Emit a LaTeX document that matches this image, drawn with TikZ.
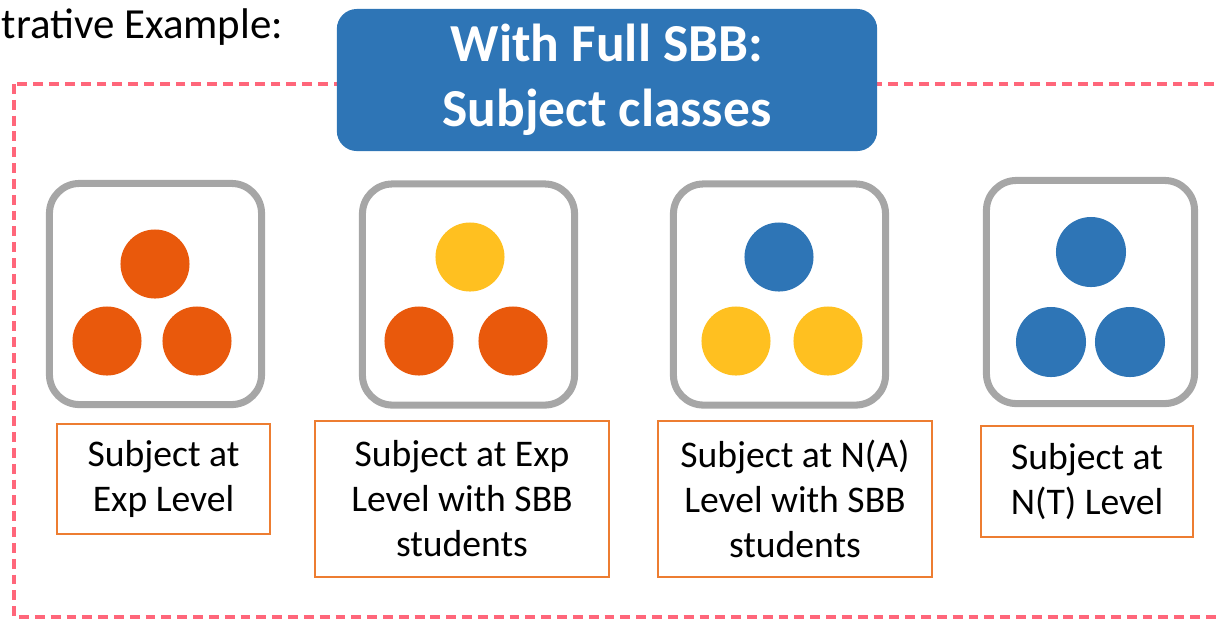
\documentclass[tikz,border=0pt]{standalone}
\usepackage{fontspec}
\setmainfont{Carlito}
\usepackage{tikz}

\definecolor{titleblue}{RGB}{46,117,182}
\definecolor{exporange}{RGB}{233,89,12}
\definecolor{sbbyellow}{RGB}{255,192,32}
\definecolor{boxgray}{RGB}{166,166,166}
\definecolor{labelorange}{RGB}{237,125,49}
\definecolor{dashpink}{RGB}{255,102,122}

\tikzset{
  classbox/.style={draw=boxgray,line width=2pt,rounded corners=0.3cm,minimum width=2.12cm,minimum height=2.21cm},
  pupil/.style={circle,inner sep=0pt,minimum size=0.69cm},
  levellabel/.style={draw=labelorange,line width=0.6pt,align=center,font=\fontsize{10.7}{12.8}\selectfont}
}

\begin{document}
\begin{tikzpicture}[x=0.01cm,y=-0.01cm]
        \useasboundingbox (0,0) rectangle (1217,620);
        \clip (0,0) rectangle (1217,620);
        \node[anchor=base west,inner sep=0pt,font=\fontsize{12.2}{14}\selectfont] (heading) at (1,38) {trative Example:};
        \draw[dashpink,line width=0.9pt,dash pattern=on 2.8pt off 1.7pt] (14,84) rectangle (1260,617);
        \node[fill=titleblue,rounded corners=0.2cm,minimum width=5.4cm,minimum height=1.42cm,text=white,align=center,
              font=\bfseries\fontsize{15.2}{18.5}\selectfont] (title) at (607,80) {With Full SBB:\\Subject classes};
        % classes
        \node[classbox] (expclass) at (155.5,294) {};
        \node[classbox] (expsbbclass) at (468.5,294.5) {};
        \node[classbox] (nasbbclass) at (779.5,294.5) {};
        \node[classbox,minimum width=2.08cm,minimum height=2.23cm] (ntclass) at (1090.5,292) {};
        % students
        \node[pupil,fill=exporange] (exptop) at (155,264) {};
        \node[pupil,fill=exporange] (expleft) at (107,341) {};
        \node[pupil,fill=exporange] (expright) at (197,341) {};
        \node[pupil,fill=sbbyellow] (expsbbtop) at (470,257) {};
        \node[pupil,fill=exporange] (expsbbleft) at (419,341) {};
        \node[pupil,fill=exporange] (expsbbright) at (513,341) {};
        \node[pupil,fill=titleblue] (nasbbtop) at (779,257) {};
        \node[pupil,fill=sbbyellow] (nasbbleft) at (736,341) {};
        \node[pupil,fill=sbbyellow] (nasbbright) at (828,341) {};
        \node[pupil,fill=titleblue,minimum size=0.7cm] (nttop) at (1091,252) {};
        \node[pupil,fill=titleblue,minimum size=0.7cm] (ntleft) at (1051,342) {};
        \node[pupil,fill=titleblue,minimum size=0.7cm] (ntright) at (1130,342) {};
        % labels
        \node[levellabel,minimum width=2.13cm,minimum height=1.1cm] (explabel) at (163.5,479) {Subject at\\Exp Level};
        \node[levellabel,minimum width=2.94cm,minimum height=1.56cm] (expsbblabel) at (462,499) {Subject at Exp\\Level with SBB\\students};
        \node[levellabel,minimum width=2.74cm,minimum height=1.56cm] (nasbblabel) at (795,499) {Subject at N(A)\\Level with SBB\\students};
        \node[levellabel,minimum width=2.12cm,minimum height=1.11cm] (ntlabel) at (1087,481.5) {Subject at\\N(T) Level};
    \end{tikzpicture}
\end{document}
